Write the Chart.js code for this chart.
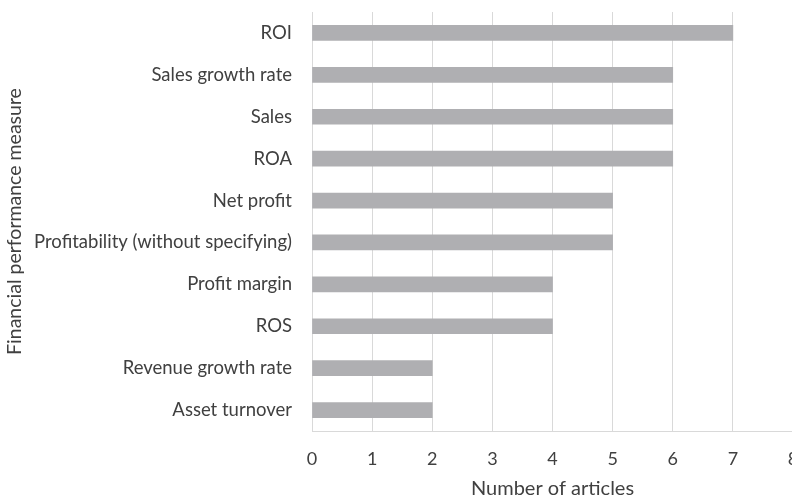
<!DOCTYPE html>
<html>
<head>
<meta charset="utf-8">
<script src="https://cdn.jsdelivr.net/npm/chart.js@4/dist/chart.umd.min.js"></script>
<style>
html,body{margin:0;padding:0;background:#fff;overflow:hidden;}
#wrap{width:800px;height:501px;position:relative;}
</style>
</head>
<body>
<div id="wrap"><canvas id="c" width="800" height="501"></canvas></div>
<script>
const categories = ["ROI","Sales growth rate","Sales","ROA","Net profit","Profitability (without specifying)","Profit margin","ROS","Revenue growth rate","Asset turnover"];
const articles = [7,6,6,6,5,5,4,4,2,2];
const xTicks = [0,1,2,3,4,5,6,7,8];

const FONT = "Lato, sans-serif";
const TXT = "#404040";

new Chart(document.getElementById('c'), {
  type: 'bar',
  data: {
    labels: categories,
    datasets: [{
      data: articles,
      backgroundColor: '#afafb2',
      borderWidth: 0,
      barThickness: 15
    }]
  },
  options: {
    indexAxis: 'y',
    responsive: false,
    animation: false,
    devicePixelRatio: 1,
    layout: { padding: { top: 12, right: 7, left: 0, bottom: 0 } },
    plugins: { legend: { display: false }, tooltip: { enabled: false } },
    scales: {
      x: {
        min: 0, max: 8,
        afterBuildTicks: s => { s.ticks = xTicks.map(v => ({ value: v })); },
        afterFit: s => { s.height = 70; },
        grid: { color: '#d9d9d9', lineWidth: 1, drawTicks: true, tickLength: 17, tickColor: 'rgba(0,0,0,0)' },
        border: { color: '#d9d9d9', width: 1 },
        ticks: { color: TXT, font: { family: FONT, size: 18 }, padding: 0, maxRotation: 0 },
        title: { display: true, text: 'Number of articles', color: TXT, font: { family: FONT, size: 20 }, padding: { top: 4, bottom: 0 } }
      },
      y: {
        afterFit: s => { s.width = 312; },
        grid: { display: true, color: 'rgba(0,0,0,0)', drawTicks: true, tickLength: 20, tickColor: 'rgba(0,0,0,0)' },
        border: { display: false },
        ticks: { color: TXT, font: { family: FONT, size: 18.5 }, padding: 0 },
        title: { display: true, text: 'Financial performance measure', color: TXT, font: { family: FONT, size: 19.5 }, padding: { top: 3, bottom: 0 } }
      }
    }
  }
});
</script>
</body>
</html>
